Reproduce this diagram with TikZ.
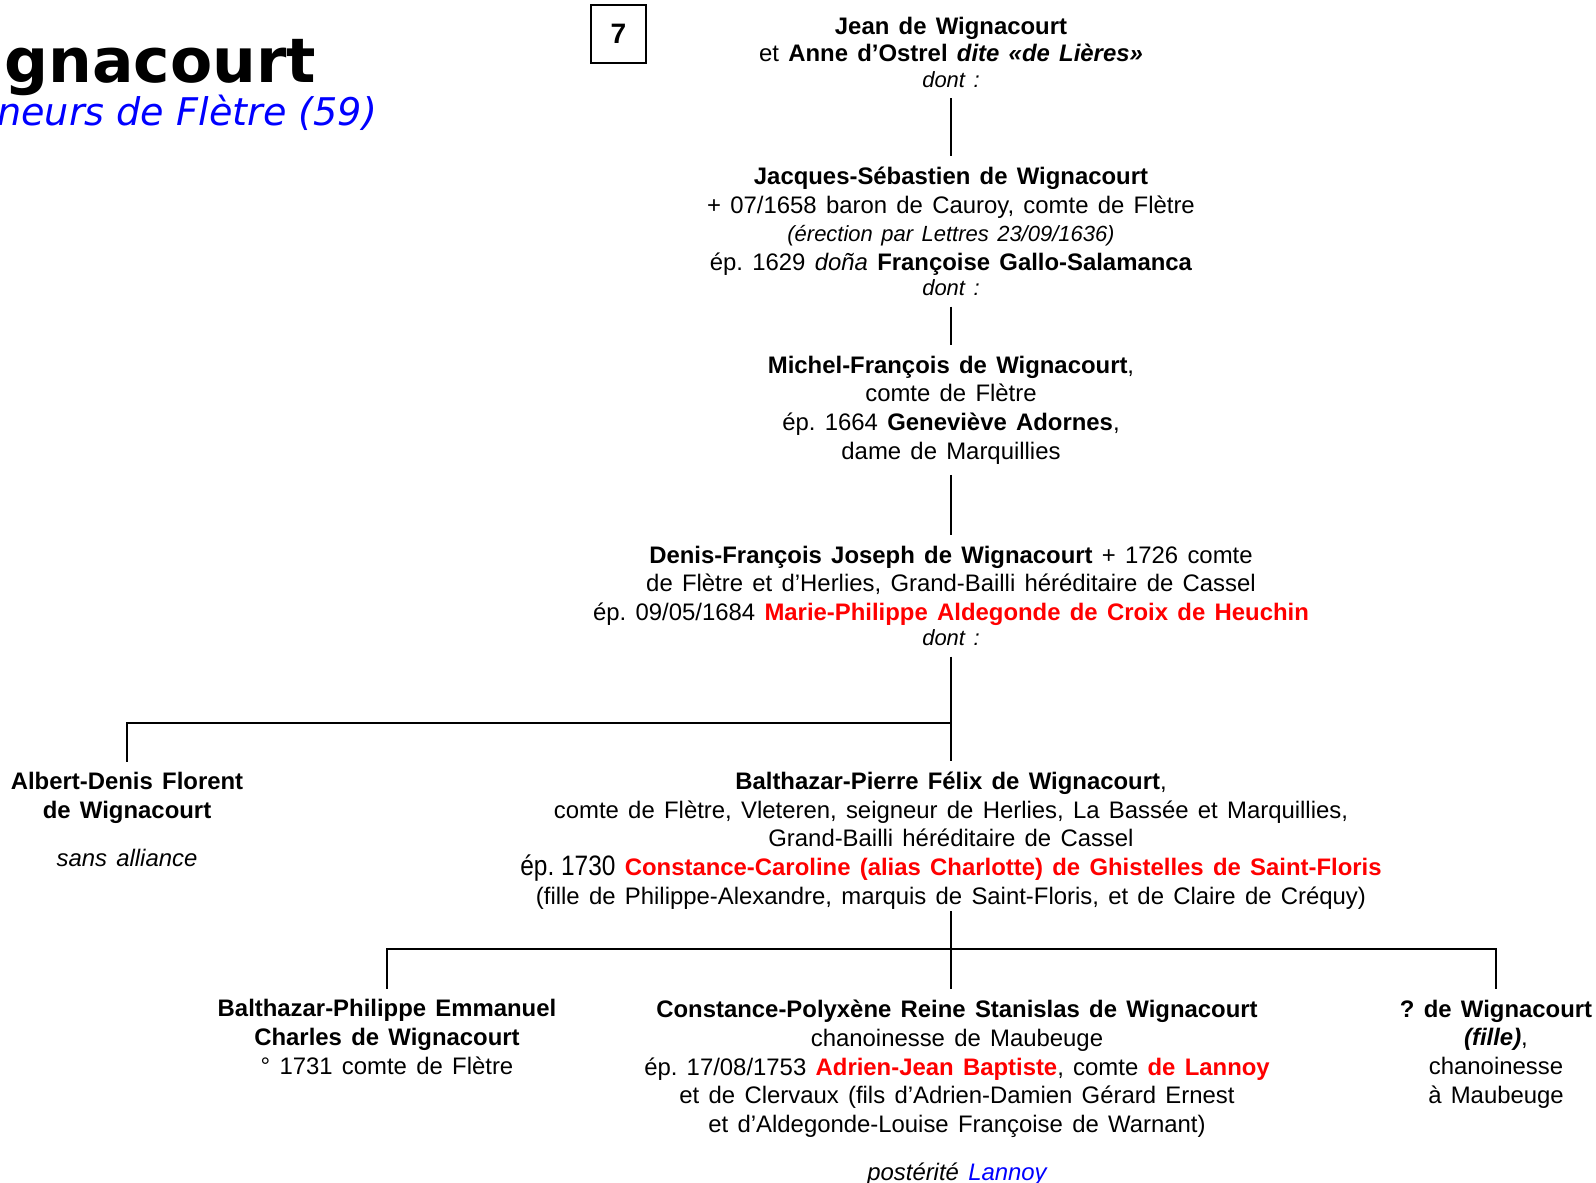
\documentclass[tikz,border=0pt]{standalone}
\usepackage{fontspec}
\setmainfont{Liberation Sans}[WordSpace=1.4]
\newfontfamily\narrowfont[FakeStretch=0.87]{Liberation Sans}
\newfontfamily\titlefont{DejaVu Sans}
\usepackage{xcolor}
\usetikzlibrary{positioning,calc}
\frenchspacing

\definecolor{namered}{RGB}{255,0,0}
\definecolor{lineblue}{RGB}{0,0,255}

\tikzset{
  person/.style={align=center, inner xsep=0pt, inner ysep=6pt, anchor=base, font=\fontsize{13.6}{16.3}\selectfont},
  link/.style={line width=1.4pt},
}
\newcommand{\dontline}{{\fontsize{12.5}{14}\selectfont\itshape dont :}}

\begin{document}
\begin{tikzpicture}[x=0.02cm, y=-0.02cm]
\useasboundingbox (0,0) rectangle (1596,1183);
% title
\node[anchor=base west, inner sep=0pt, font=\titlefont\bfseries\fontsize{35}{40}\selectfont] (title) at (4,82) {gnacourt};
\node[anchor=base west, inner sep=0pt, text=lineblue, font=\titlefont\itshape\fontsize{21.7}{24}\selectfont] (subtitle) at (-3,125) {neurs de Flètre (59)};
\node[draw, line width=0.8pt, minimum width=1.1cm, minimum height=1.16cm, font=\bfseries\fontsize{16}{18}\selectfont] (planche) at (618.5,34) {7};

% generations (base = last line)
\node[person] (jean) at (951,87) {\textbf{Jean de Wignacourt}\\[-0.5pt] et \textbf{Anne d’Ostrel \textit{dite «de Lières»}}\\[-2pt] \dontline};
\node[person] (jacques) at (951,295.5) {\textbf{Jacques-Sébastien de Wignacourt}\\ + 07/1658 baron de Cauroy, comte de Flètre\\ {\fontsize{12.5}{14}\selectfont\itshape (érection par Lettres 23/09/1636)}\\ ép. 1629 \textit{doña} \textbf{Françoise Gallo-Salamanca}\\[-2pt] \dontline};
\node[person] (michel) at (951,459) {\textbf{Michel-François de Wignacourt},\\ comte de Flètre\\ ép. 1664 \textbf{Geneviève Adornes},\\ dame de Marquillies};
\node[person] (denis) at (951,645.5) {\textbf{Denis-François Joseph de Wignacourt} + 1726 comte\\ de Flètre et d’Herlies, Grand-Bailli héréditaire de Cassel\\ ép. 09/05/1684 \textbf{\textcolor{namered}{Marie-Philippe Aldegonde de Croix de Heuchin}}\\[-2pt] \dontline};

% enfants de Denis-Francois
\node[person] (albert) at (127,866) {\textbf{Albert-Denis Florent}\\ \textbf{de Wignacourt}\\[10.8pt] \textit{sans alliance}};
\node[person] (balthazar) at (951,904) {\textbf{Balthazar-Pierre Félix de Wignacourt},\\ comte de Flètre, Vleteren, seigneur de Herlies, La Bassée et Marquillies,\\ Grand-Bailli héréditaire de Cassel\\ {\narrowfont\fontsize{16}{16.3}\selectfont ép. 1730} \textbf{\textcolor{namered}{Constance-Caroline (alias Charlotte) de Ghistelles de Saint-Floris}}\\ (fille de Philippe-Alexandre, marquis de Saint-Floris, et de Claire de Créquy)};

% petits-enfants
\node[person] (philippe) at (387,1074) {\textbf{Balthazar-Philippe Emmanuel}\\ \textbf{Charles de Wignacourt}\\ ° 1731 comte de Flètre};
\node[person] (constance) at (957,1180) {\textbf{Constance-Polyxène Reine Stanislas de Wignacourt}\\ chanoinesse de Maubeuge\\ ép. 17/08/1753 \textbf{\textcolor{namered}{Adrien-Jean Baptiste}}, comte \textbf{\textcolor{namered}{de Lannoy}}\\ et de Clervaux (fils d’Adrien-Damien Gérard Ernest\\ et d’Aldegonde-Louise Françoise de Warnant)\\[10.8pt] \textit{postérité \textcolor{lineblue}{Lannoy}}};
\node[person] (fille) at (1496,1103) {\textbf{? de Wignacourt}\\ \textbf{\textit{(fille)}},\\ chanoinesse\\ à Maubeuge};

% liens
\coordinate (fork1) at (951,723);
\coordinate (fork2) at (951,949);
\draw[link] (jean) -- (jacques);
\draw[link] (jacques) -- (michel);
\draw[link] (michel) -- (denis);
\draw[link] (denis) -- (fork1) -- (balthazar);
\draw[link] (fork1) -| (albert);
\draw[link, shorten <=-5pt] (balthazar) -- (fork2);
\draw[link] (philippe) |- (fork2) -| (fille);
\draw[link] (fork2) -- (fork2 |- constance.north);
\end{tikzpicture}
\end{document}
